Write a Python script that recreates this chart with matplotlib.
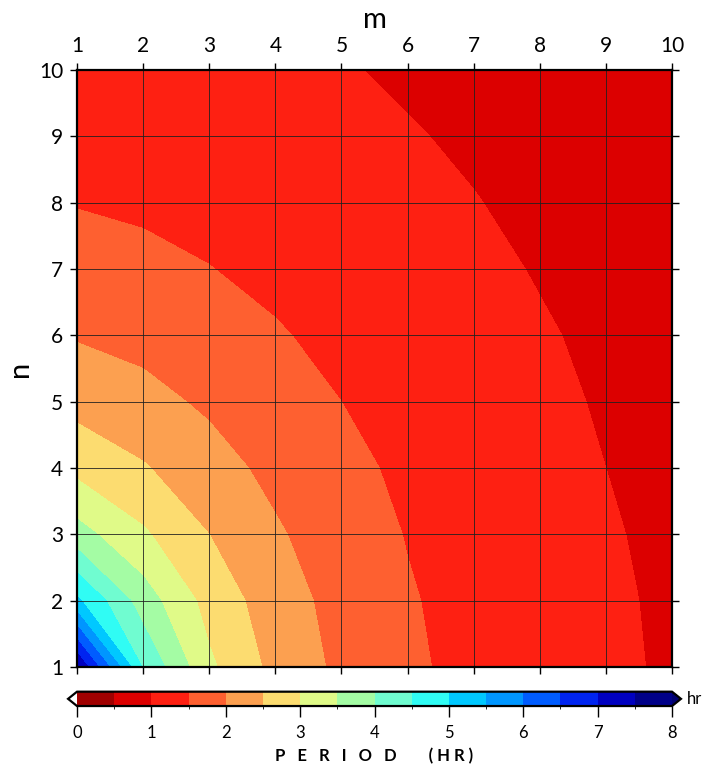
import numpy as np
import matplotlib
matplotlib.use("Agg")
import matplotlib.pyplot as plt
from matplotlib.colors import ListedColormap, BoundaryNorm

# Ejes (modos m, n)
m_vals = [1, 2, 3, 4, 5, 6, 7, 8, 9, 10]
n_vals = [1, 2, 3, 4, 5, 6, 7, 8, 9, 10]

# Periodo (hr), filas = n (1..10), columnas = m (1..10)
periodo = [
    [7.49, 4.45, 3.09, 2.35, 1.89, 1.58, 1.36, 1.19, 1.06, 0.96],
    [5.09, 3.75, 2.82, 2.23, 1.83, 1.54, 1.34, 1.18, 1.05, 0.95],
    [3.69, 3.07, 2.50, 2.06, 1.73, 1.48, 1.30, 1.15, 1.03, 0.93],
    [2.86, 2.54, 2.19, 1.87, 1.62, 1.41, 1.25, 1.11, 1.00, 0.91],
    [2.33, 2.15, 1.92, 1.70, 1.50, 1.33, 1.19, 1.07, 0.97, 0.89],
    [1.96, 1.85, 1.70, 1.54, 1.38, 1.25, 1.13, 1.03, 0.94, 0.86],
    [1.69, 1.61, 1.51, 1.39, 1.28, 1.17, 1.07, 0.98, 0.90, 0.84],
    [1.48, 1.43, 1.36, 1.27, 1.18, 1.09, 1.01, 0.94, 0.87, 0.81],
    [1.32, 1.28, 1.23, 1.17, 1.09, 1.02, 0.96, 0.89, 0.83, 0.78],
    [1.19, 1.16, 1.12, 1.07, 1.02, 0.96, 0.90, 0.85, 0.80, 0.75],
]

niveles = np.arange(0, 8.5, 0.5)
colores = ['#a00000', '#dc0000', '#fe2012', '#fe6030', '#fca050', '#fcdc70',
           '#e0fa88', '#a4fca4', '#70fcd0', '#30fcf4', '#00c8ff', '#0096ff',
           '#005cff', '#0024f0', '#0000c0', '#000088']

cmap = ListedColormap(colores)
cmap.set_under('white')
cmap.set_over('#000070')
norm = BoundaryNorm(niveles, cmap.N)

plt.rcParams['font.family'] = ['Lato', 'DejaVu Sans']

fig = plt.figure(figsize=(7.02, 7.67), dpi=100)
ax = fig.add_axes([0.1097, 0.1304, 0.8476, 0.7783])

M, N = np.meshgrid(m_vals, n_vals)
cf = ax.contourf(M, N, np.array(periodo), levels=niveles, cmap=cmap, norm=norm, extend='both')

ax.set_xlim(1, 10)
ax.set_ylim(1, 10)
ax.set_xticks(m_vals)
ax.set_yticks(n_vals)
ax.grid(True, color='#202020', linewidth=0.7, alpha=0.85)
ax.xaxis.set_ticks_position('both')
ax.yaxis.set_ticks_position('both')
ax.xaxis.set_label_position('top')
ax.tick_params(axis='x', labeltop=True, labelbottom=False, direction='out', length=5, width=1, labelsize=15, pad=5)
ax.tick_params(axis='y', labelleft=True, labelright=False, direction='out', length=5, width=1, labelsize=15, pad=5)
for s in ax.spines.values():
    s.set_linewidth(1.6)
ax.set_xlabel('m', fontsize=21, labelpad=6)
ax.set_ylabel('n', fontsize=21, labelpad=4)

# Barra de colores (las flechas quedan fuera del rango 0-8)
ext = 0.015
ancho = 0.8476
cax = fig.add_axes([0.1097 - ancho * ext, 0.0795, ancho * (1 + 2 * ext), 0.0187])
cb = fig.colorbar(cf, cax=cax, orientation='horizontal', extend='both', extendfrac=ext)
cb.set_ticks(range(0, 9))
cb.ax.tick_params(direction='out', length=8, width=1, labelsize=12, pad=6)
cb.outline.set_linewidth(1.6)
cb.set_label('P   E   R   I   O   D        ( H R )', fontsize=12, fontweight='bold', labelpad=5)
fig.text(0.978, 0.089, 'hr', fontsize=12, va='center', ha='left')

plt.savefig('out.png', dpi=100)
